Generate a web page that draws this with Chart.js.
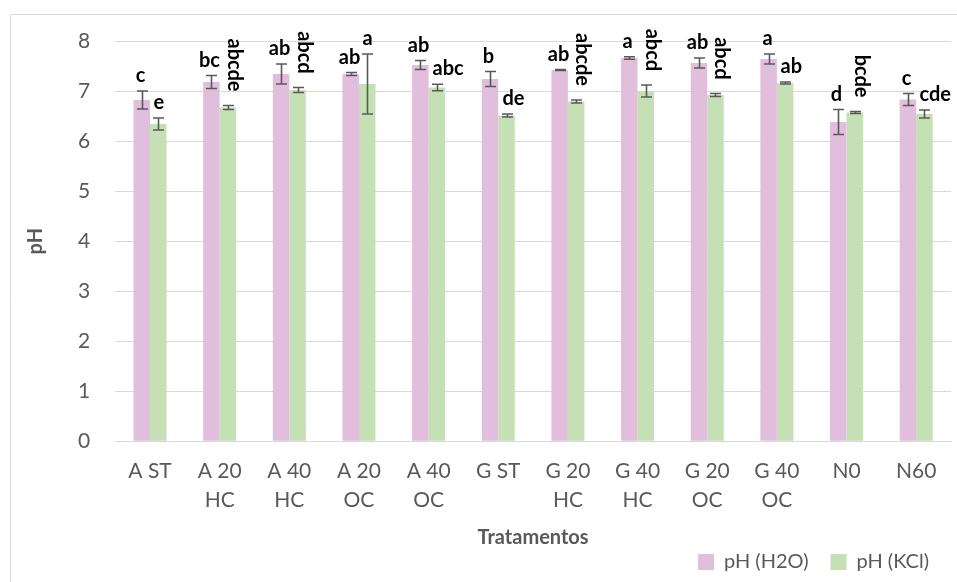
<!DOCTYPE html>
<html>
<head>
<meta charset="utf-8">
<script src="https://cdn.jsdelivr.net/npm/chart.js@4/dist/chart.umd.min.js"></script>
<style>
  body { margin: 0; background: #fff; }
  #wrap { width: 957px; height: 582px; }
</style>
</head>
<body>
<div id="wrap"><canvas id="chart" width="957" height="582"></canvas></div>
<script>
// ── DATA ─────────────────────────────────────────────────────────────────────
const categories = ["A ST", ["A 20", "HC"], ["A 40", "HC"], ["A 20", "OC"], ["A 40", "OC"],
  "G ST", ["G 20", "HC"], ["G 40", "HC"], ["G 20", "OC"], ["G 40", "OC"], "N0", "N60"];

const phH2O    = [6.82, 7.18, 7.34, 7.34, 7.52, 7.24, 7.42, 7.66, 7.56, 7.64, 6.38, 6.83];
const phH2OErr = [0.18, 0.13, 0.20, 0.03, 0.09, 0.15, 0.01, 0.025, 0.10, 0.10, 0.25, 0.12];
const phKCl    = [6.34, 6.67, 7.02, 7.14, 7.07, 6.51, 6.79, 7.00, 6.92, 7.16, 6.57, 6.54];
const phKClErr = [0.12, 0.04, 0.05, 0.60, 0.065, 0.03, 0.03, 0.12, 0.03, 0.02, 0.02, 0.08];

const lettersH2O = ["c", "bc", "ab", "ab", "ab", "b", "ab", "a", "ab", "a", "d", "c"];
const lettersKCl = ["e", "abcde", "abcd", "a", "abc", "de", "abcde", "abcd", "abcd", "ab", "bcde", "cde"];

const yTicks = [0, 1, 2, 3, 4, 5, 6, 7, 8];

const FONT = "Lato, 'Open Sans', sans-serif";
const GREY = "#595959";

// ── PLUGINS ──────────────────────────────────────────────────────────────────
// light chart frame (only left/top edges fall inside the picture)
const framePlugin = {
  id: "frame",
  beforeDraw(chart) {
    const ctx = chart.ctx;
    ctx.save();
    ctx.strokeStyle = "#d9d9d9";
    ctx.lineWidth = 1;
    ctx.beginPath();
    ctx.moveTo(10.5, chart.height + 5);
    ctx.lineTo(10.5, 14.5);
    ctx.lineTo(chart.width + 5, 14.5);
    ctx.stroke();
    ctx.restore();
  },
  // legend sits a little in from the right edge, as in the original
  afterLayout(chart) {
    chart.legend.left -= 20;
    chart.legend.right -= 20;
  }
};

// error bars + significance letters
const errLetters = {
  id: "errLetters",
  afterDatasetsDraw(chart) {
    const ctx = chart.ctx;
    const y = chart.scales.y;
    const errs = [phH2OErr, phKClErr];
    const letters = [lettersH2O, lettersKCl];
    ctx.save();
    chart.data.datasets.forEach((ds, di) => {
      const meta = chart.getDatasetMeta(di);
      meta.data.forEach((bar, i) => {
        const v = ds.data[i], e = errs[di][i];
        const yHi = y.getPixelForValue(v + e);
        const yLo = y.getPixelForValue(v - e);
        const x = Math.round(bar.x) + 0.5;

        // Error bar
        ctx.strokeStyle = "#595959";
        ctx.lineWidth = 1.6;
        ctx.beginPath();
        ctx.moveTo(x, yHi); ctx.lineTo(x, yLo);
        ctx.moveTo(x - 5.5, yHi); ctx.lineTo(x + 5.5, yHi);
        ctx.moveTo(x - 5.5, yLo); ctx.lineTo(x + 5.5, yLo);
        ctx.stroke();

        // Letter: long ones turned 90°, green ones start at the bar centre
        const txt = letters[di][i];
        ctx.fillStyle = "#000";
        ctx.font = `bold 20px ${FONT}`;
        if (txt.length >= 4) {
          ctx.save();
          ctx.translate(x + 6, yHi - 14);
          ctx.rotate(Math.PI / 2);
          ctx.textAlign = "right";
          ctx.textBaseline = "middle";
          ctx.fillText(txt, 0, 0);
          ctx.restore();
        } else {
          ctx.textBaseline = "alphabetic";
          if (di === 1) {
            ctx.textAlign = "left";
            ctx.fillText(txt, x - 5, yHi - 9);
          } else {
            ctx.textAlign = "center";
            ctx.fillText(txt, x - 2, yHi - 9);
          }
        }
      });
    });
    ctx.restore();
  }
};

// ── CHART ────────────────────────────────────────────────────────────────────
new Chart(document.getElementById("chart"), {
  type: "bar",
  data: {
    labels: categories,
    datasets: [
      { label: "pH (H2O)", data: phH2O, backgroundColor: "#e2bedd" },
      { label: "pH (KCl)", data: phKCl, backgroundColor: "#c5e0b4" }
    ]
  },
  options: {
    responsive: false,
    animation: false,
    layout: { padding: { top: 41, right: 6, left: 20, bottom: 0 } },
    datasets: { bar: { categoryPercentage: 0.474, barPercentage: 1.0 } },
    plugins: {
      tooltip: { enabled: false },
      legend: {
        position: "bottom",
        align: "end",
        fullSize: false,
        labels: {
          color: GREY,
          font: { family: FONT, size: 20 },
          boxWidth: 16, boxHeight: 16,
          padding: 2,
          // wider gap between the two entries than the tight vertical padding
          generateLabels(chart) {
            const items = Chart.defaults.plugins.legend.labels.generateLabels(chart);
            items.forEach((it, k) => { if (k < items.length - 1) it.text += "\u2002\u2002"; });
            return items;
          }
        }
      }
    },
    scales: {
      x: {
        grid: { display: false },
        border: { color: "#d9d9d9", width: 1 },
        ticks: { color: GREY, font: { family: FONT, size: 21, lineHeight: 1.35 }, maxRotation: 0, autoSkip: false, padding: 8 },
        title: { display: true, text: "Tratamentos", color: GREY, font: { family: FONT, size: 20, weight: "bold" }, padding: { top: 4, bottom: 0 } }
      },
      y: {
        min: 0, max: 8,
        afterBuildTicks(axis) { axis.ticks = yTicks.map(v => ({ value: v })); },
        grid: { color: "#d9d9d9", drawTicks: false },
        border: { display: false },
        ticks: { color: GREY, font: { family: FONT, size: 21 }, padding: 25 },
        title: { display: true, text: "pH", color: GREY, font: { family: FONT, size: 20, weight: "bold" }, padding: { top: 4, bottom: 5 } }
      }
    }
  },
  plugins: [framePlugin, errLetters]
});
</script>
</body>
</html>
